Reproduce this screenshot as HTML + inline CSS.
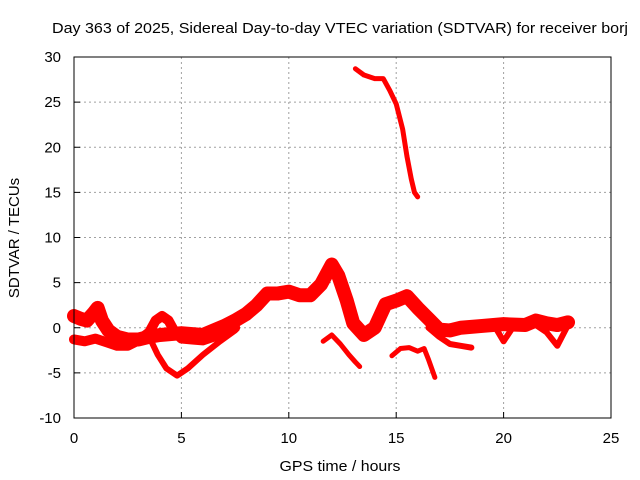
<!DOCTYPE html>
<html><head><meta charset="utf-8"><style>
body{margin:0;background:#fff}
svg{display:block;font-family:"Liberation Sans",sans-serif}
</style></head><body>
<svg id="c" width="640" height="480">
<rect width="640" height="480" fill="#fff"/>
<g id="grid"></g>
<g id="series"></g>
<rect x="74" y="57" width="537" height="361" fill="none" stroke="#000" stroke-width="1"/>
<g id="ticks"></g>
<text x="52" y="33" font-size="15" textLength="576" lengthAdjust="spacingAndGlyphs">Day 363 of 2025, Sidereal Day-to-day VTEC variation (SDTVAR) for receiver borj</text>
<text x="340" y="471" text-anchor="middle" font-size="15" textLength="121" lengthAdjust="spacingAndGlyphs">GPS time / hours</text>
<text x="19" y="238" text-anchor="middle" font-size="15" transform="rotate(-90 19 238)">SDTVAR / TECUs</text>
</svg>
<script>
const xTicks=[0,5,10,15,20,25];
const yTicks=[-10,-5,0,5,10,15,20,25,30];
const upperBandH=[0,0.3,0.6,0.9,1.1,1.3,1.6,2,2.5,3,3.5,4,5,6,7,7.5,8,8.5,9,9.5,10,10.5,11,11.5,12,12.3,12.7,13,13.5,14,14.5,15,15.5,16,16.5,17,17.5,18,19,20,21,21.5,22,22.5,23];
const upperBandV=[1.3,1,0.8,1.6,2.2,0.8,-0.3,-1,-1.3,-1.3,-1,-0.8,-0.6,-0.8,0.2,0.8,1.5,2.5,3.8,3.8,4,3.6,3.6,4.8,7,5.8,3,0.5,-0.8,0,2.6,3,3.5,2.2,1,-0.2,-0.3,0,0.2,0.4,0.3,0.8,0.5,0.3,0.6];
const lowerBandH=[0,0.5,1,1.5,2,2.5,3,3.5,3.8,4.1,4.4,4.7,5,5.5,6,6.5,7,7.5];
const lowerBandV=[-1.3,-1.5,-1.2,-1.6,-2,-2,-1.4,-0.5,0.8,1.3,0.8,-0.5,-1.2,-1.3,-1.4,-1,-0.8,0];
const vDipH=[3.5,3.9,4.3,4.8,5.3,6,6.8,7.5];
const vDipV=[-1,-3,-4.5,-5.3,-4.5,-3,-1.5,-0.3];
const tailH=[16.5,17,17.5,18,18.5];
const tailV=[0,-1,-1.8,-2,-2.2];
const tail2H=[19.7,20,20.5,21,21.5,22,22.5,23];
const tail2V=[-0.3,-1.5,0.3,0.5,0.3,-0.5,-2,0.3];
const segAH=[11.6,12,12.4,12.8,13.1,13.3];
const segAV=[-1.5,-0.8,-1.8,-3,-3.8,-4.3];
const segBH=[14.8,15.2,15.6,16,16.3,16.5,16.8];
const segBV=[-3.1,-2.3,-2.2,-2.6,-2.3,-3.5,-5.5];
const topH=[13.1,13.5,14,14.4,14.7,15,15.3,15.5,15.7,15.85,16];
const topV=[28.7,28,27.6,27.6,26.3,24.8,22,19,16.5,15,14.5];
const X=h=>74+h*537/25, Y=v=>418-(v+10)*361/40;
const NS="http://www.w3.org/2000/svg";
const grid=document.getElementById('grid'),ticks=document.getElementById('ticks'),ser=document.getElementById('series');
function mk(tag,attrs,parent){const e=document.createElementNS(NS,tag);for(const k in attrs)e.setAttribute(k,attrs[k]);parent.appendChild(e);return e;}
xTicks.forEach(t=>{const x=X(t);
 if(t>0&&t<25){const g=mk('line',{x1:x,x2:x,y1:57,y2:418,stroke:'#a0a0a0','stroke-dasharray':'2,3'},grid);}
 mk('line',{x1:x,x2:x,y1:418,y2:412,stroke:'#000'},ticks);
 const l=mk('text',{x:x,y:443,'text-anchor':'middle','font-size':15},ticks);l.textContent=t;
 
 });
yTicks.forEach(t=>{const y=Y(t);
 if(t>-10&&t<30){const g=mk('line',{x1:74,x2:611,y1:y,y2:y,stroke:'#a0a0a0','stroke-dasharray':'2,3'},grid);}
 mk('line',{x1:74,x2:80,y1:y,y2:y,stroke:'#000'},ticks);
 const l=mk('text',{x:61,y:y+5,'text-anchor':'end','font-size':15},ticks);l.textContent=t;
 
 });
function line(H,V,w,name){const p=mk('polyline',{points:H.map((h,i)=>X(h)+','+Y(V[i])).join(' '),fill:'none',stroke:'#ff0000','stroke-width':w,'stroke-linejoin':'round','stroke-linecap':'round'},ser);
 
 }
line(upperBandH,upperBandV,14,'sdtvar-upper-band');
line(lowerBandH,lowerBandV,10,'sdtvar-lower-band');
line(vDipH,vDipV,6,'sdtvar-dip');
line(tailH,tailV,6,'sdtvar-tail');
line(tail2H,tail2V,6,'sdtvar-tail-late');
line(segAH,segAV,5,'sdtvar-segment-a');
line(segBH,segBV,5,'sdtvar-segment-b');
line(topH,topV,5,'sdtvar-high-segment');
</script>
</body></html>
